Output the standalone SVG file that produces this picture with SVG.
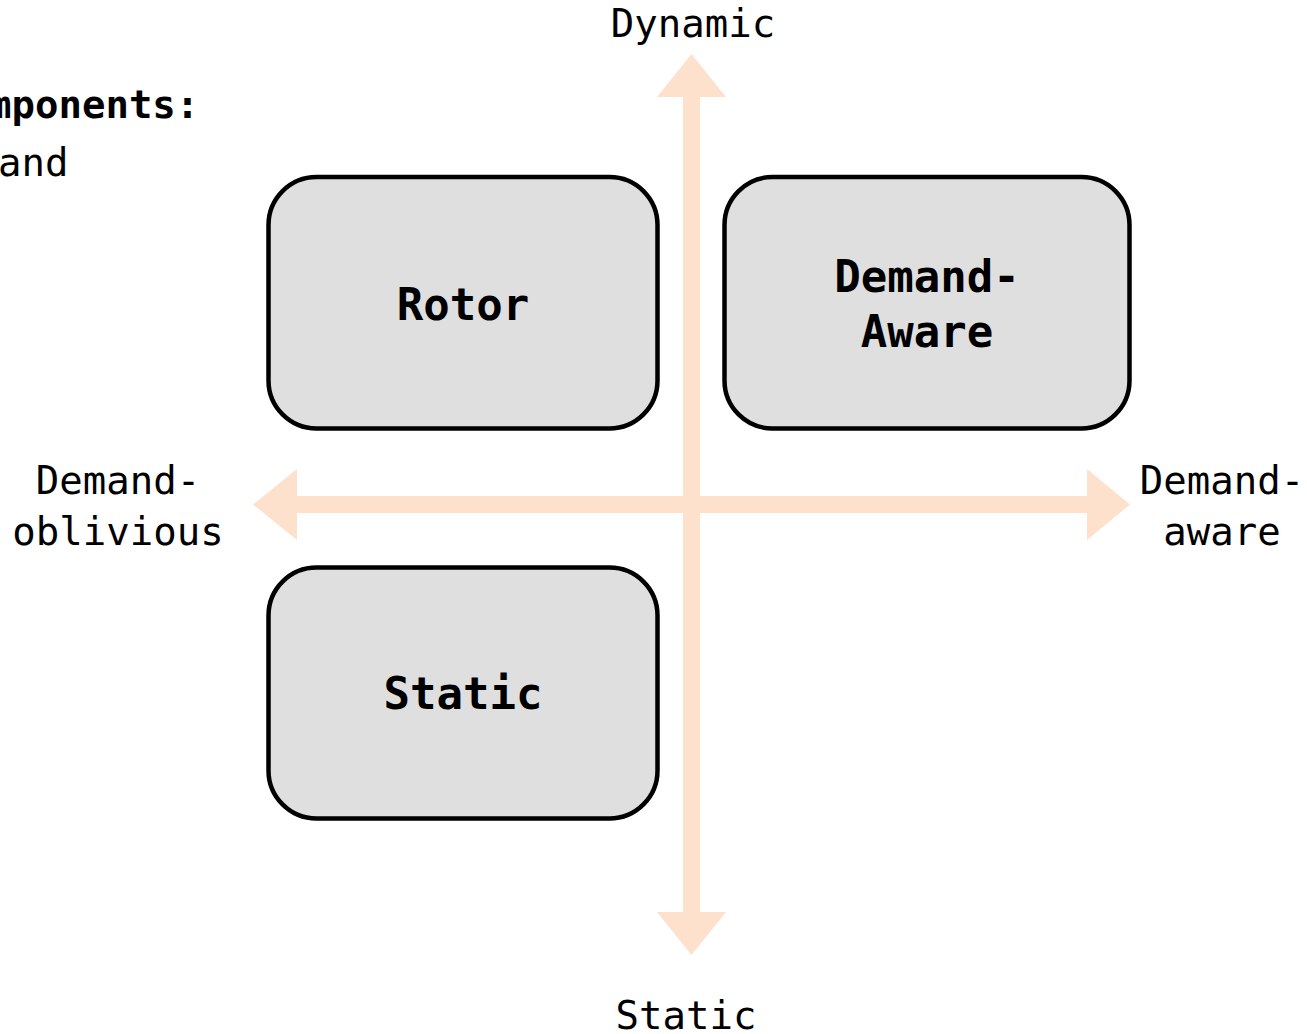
<svg xmlns="http://www.w3.org/2000/svg" width="1307" height="1034" viewBox="0 0 1307 1034">
<style>
.ax{fill:#FDE1CD;stroke:none}
.box{fill:#DFDFDF;stroke:#000;stroke-width:4.5}
.lbl{font-family:"DejaVu Sans Mono","Liberation Mono",monospace;font-size:39px;fill:#000}
.bl{font-family:"DejaVu Sans Mono","Liberation Mono",monospace;font-size:44px;font-weight:bold;fill:#000}
</style>
<rect width="1307" height="1034" fill="#fff"/>
<g id="connectors">
<polygon class="ax" points="683,97 657,97 691.5,54 726,97 700,97 700,912 726,912 691.5,955 657,912 683,912"/>
<polygon class="ax" points="297,496 297,469 253,504.5 297,540 297,513 1087,513 1087,540 1130,504.5 1087,469 1087,496"/>
</g>
<g id="title">
<text class="lbl" x="-12" y="118" font-weight="bold">mponents:</text>
<text class="lbl" x="-2" y="176">and</text>
</g>
<g id="axis-labels">
<text class="lbl" x="693" y="37" text-anchor="middle">Dynamic</text>
<text class="lbl" x="686" y="1029" text-anchor="middle">Static</text>
<text class="lbl" x="118" y="494" text-anchor="middle">Demand-</text>
<text class="lbl" x="118" y="545" text-anchor="middle">oblivious</text>
<text class="lbl" x="1222" y="494" text-anchor="middle">Demand-</text>
<text class="lbl" x="1222" y="545" text-anchor="middle">aware</text>
</g>
<g id="rotor">
<rect class="box" x="268.5" y="177" width="389" height="251.5" rx="48"/>
<text class="bl" x="463" y="320" text-anchor="middle">Rotor</text>
</g>
<g id="demand-aware">
<rect class="box" x="724.5" y="177" width="405" height="251.5" rx="48"/>
<text class="bl" x="927" y="292" text-anchor="middle">Demand-</text>
<text class="bl" x="927" y="347" text-anchor="middle">Aware</text>
</g>
<g id="static">
<rect class="box" x="268.5" y="567.5" width="389" height="251" rx="48"/>
<text class="bl" x="463" y="709" text-anchor="middle">Static</text>
</g>
</svg>
